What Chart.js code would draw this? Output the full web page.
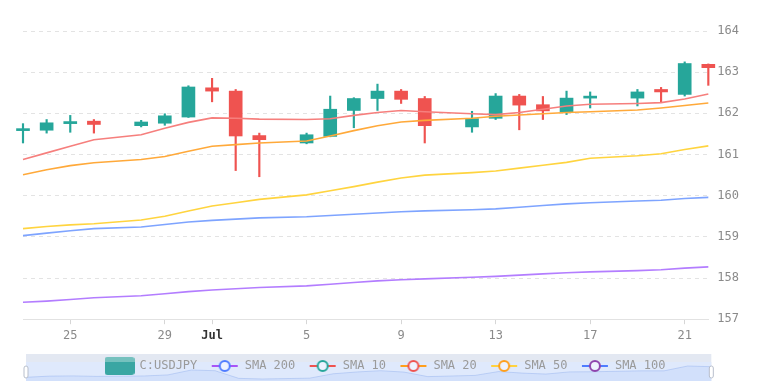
<!DOCTYPE html>
<html lang="en">
<head>
<meta charset="UTF-8">
<title>C:USDJPY</title>
<script src="https://cdn.jsdelivr.net/npm/chart.js"></script>
<style>
  html, body { margin: 0; padding: 0; background: #fff; }
  #wrap { width: 770px; height: 381px; }
</style>
</head>
<body>
<div id="wrap"><canvas id="chart" width="770" height="381"></canvas></div>
<script>
// calendar days shown on the axis (one day a week has no candle)
const dates = [
  '2024-06-23', '2024-06-24', '2024-06-25', '2024-06-26', '2024-06-27', '2024-06-28', '2024-06-29', '2024-06-30',
  '2024-07-01', '2024-07-02', '2024-07-03', '2024-07-04', '2024-07-05', '2024-07-06', '2024-07-07', '2024-07-08',
  '2024-07-09', '2024-07-10', '2024-07-11', '2024-07-12', '2024-07-13', '2024-07-14', '2024-07-15', '2024-07-16',
  '2024-07-17', '2024-07-18', '2024-07-19', '2024-07-20', '2024-07-21', '2024-07-22'
];
const tickDates = ['2024-06-25', '2024-06-29', '2024-07-01', '2024-07-05', '2024-07-09', '2024-07-13', '2024-07-17', '2024-07-21'];
const monthNames = ['Jan', 'Feb', 'Mar', 'Apr', 'May', 'Jun', 'Jul', 'Aug', 'Sep', 'Oct', 'Nov', 'Dec'];
const yTicks = [157, 158, 159, 160, 161, 162, 163, 164];

const open  = [161.58, 161.59, 161.75, 161.81, null, 161.70, 161.76, 161.91, 162.62, 162.54, 161.46, null, 161.28, 161.44, 162.07, 162.36, 162.54, 162.36, null, 161.67, 161.88, 162.42, 162.21, 162.03, 162.37, null, 162.37, 162.58, 162.46, 163.19];
const high  = [161.75, 161.85, 161.95, 161.85, null, 161.83, 161.99, 162.67, 162.85, 162.58, 161.52, null, 161.52, 162.42, 162.38, 162.71, 162.58, 162.41, null, 162.05, 162.48, 162.46, 162.41, 162.54, 162.52, null, 162.58, 162.63, 163.25, 163.20];
const low   = [161.28, 161.52, 161.54, 161.52, null, 161.67, 161.71, 161.90, 162.28, 160.61, 160.46, null, 161.26, 161.43, 161.65, 162.07, 162.24, 161.28, null, 161.54, 161.85, 161.60, 161.85, 161.97, 162.13, null, 162.18, 162.28, 162.42, 162.68];
const close = [161.60, 161.77, 161.80, 161.73, null, 161.79, 161.94, 162.64, 162.54, 161.45, 161.36, null, 161.48, 162.10, 162.36, 162.54, 162.34, 161.70, null, 161.87, 162.42, 162.20, 162.06, 162.37, 162.39, null, 162.52, 162.52, 163.21, 163.11];

const sma10  = [160.88, 161.04, 161.20, 161.36, null, 161.48, 161.64, 161.78, 161.89, 161.88, 161.86, null, 161.85, 161.87, 161.95, 162.02, 162.07, 162.04, null, 161.99, 161.97, 162.02, 162.10, 162.18, 162.22, null, 162.24, 162.26, 162.35, 162.47];
const sma20  = [160.51, 160.63, 160.73, 160.80, null, 160.88, 160.95, 161.08, 161.20, 161.24, 161.28, null, 161.33, 161.45, 161.58, 161.70, 161.79, 161.83, null, 161.88, 161.93, 161.96, 161.99, 162.02, 162.04, null, 162.08, 162.13, 162.19, 162.25];
const sma50  = [159.20, 159.25, 159.29, 159.32, null, 159.41, 159.50, 159.63, 159.75, 159.83, 159.91, null, 160.02, 160.12, 160.22, 160.33, 160.43, 160.50, null, 160.56, 160.60, 160.67, 160.74, 160.81, 160.91, null, 160.97, 161.02, 161.12, 161.21];
const sma100 = [159.03, 159.09, 159.15, 159.20, null, 159.24, 159.30, 159.36, 159.40, 159.43, 159.46, null, 159.49, 159.52, 159.55, 159.58, 159.61, 159.63, null, 159.66, 159.68, 159.72, 159.76, 159.80, 159.83, null, 159.87, 159.89, 159.93, 159.96];
const sma200 = [157.41, 157.44, 157.48, 157.52, null, 157.57, 157.62, 157.67, 157.71, 157.74, 157.77, null, 157.81, 157.85, 157.89, 157.93, 157.96, 157.98, null, 158.02, 158.04, 158.07, 158.10, 158.13, 158.15, null, 158.18, 158.20, 158.24, 158.27];

const legendNames = ['C:USDJPY', 'SMA 200', 'SMA 10', 'SMA 20', 'SMA 50', 'SMA 100'];

const UP = '#26a69a';
const DOWN = '#ef5350';
const MONO = 'DejaVu Sans Mono';

function candleColor(i) {
  return close[i] >= open[i] ? UP : DOWN;
}

function dayLabel(d) {
  const parts = d.split('-');
  const day = parseInt(parts[2], 10);
  return day === 1 ? monthNames[parseInt(parts[1], 10) - 1] : String(day);
}

// legend markers: small canvases used as point styles
function lineIcon(lineColor, ringColor) {
  const c = document.createElement('canvas');
  c.width = 28; c.height = 14;
  const g = c.getContext('2d');
  g.strokeStyle = lineColor;
  g.lineWidth = 2;
  g.beginPath(); g.moveTo(1, 7); g.lineTo(27, 7); g.stroke();
  g.fillStyle = '#eef3ff';
  g.strokeStyle = ringColor;
  g.beginPath(); g.arc(14, 7, 5, 0, Math.PI * 2); g.fill(); g.stroke();
  return c;
}
function candleIcon() {
  const c = document.createElement('canvas');
  c.width = 30; c.height = 18;
  const g = c.getContext('2d');
  g.fillStyle = '#3aa6a3';
  g.beginPath(); g.roundRect(0, 0, 30, 18, 3); g.fill();
  g.fillStyle = 'rgba(255,255,255,0.3)';
  g.beginPath(); g.roundRect(0, 0, 30, 5, [3, 3, 0, 0]); g.fill();
  return c;
}
const icons = [
  candleIcon(),
  lineIcon('#a855f7', '#4f7cff'),
  lineIcon('#ef5350', '#26a69a'),
  lineIcon('#ff9f1c', '#ef5350'),
  lineIcon('#ffd23f', '#ff9f1c'),
  lineIcon('#4f7cff', '#8e44ad')
];

// the zoom slider strip behind the legend
const sliderPlugin = {
  id: 'slider',
  beforeDraw(chart) {
    const { ctx, chartArea, height } = chart;
    const x0 = chartArea.left + 3, x1 = chartArea.right + 3;
    const y0 = height - 27, y1 = height + 2;
    ctx.save();
    ctx.fillStyle = '#e3e8f2';
    ctx.fillRect(x0, y0, x1 - x0, y1 - y0);
    ctx.fillStyle = '#dfe9fc';
    ctx.fillRect(x0, y0 + 8, x1 - x0, y1 - y0 - 8);
    // data shadow
    const vals = close.filter(v => v != null);
    const mn = Math.min(...vals), mx = Math.max(...vals);
    const top = y0 + 12, bot = y1 - 4;
    ctx.beginPath();
    let first = true;
    close.forEach((v, i) => {
      if (v == null) return;
      const x = x0 + (x1 - x0) * i / (close.length - 1);
      const y = bot - (v - mn) / (mx - mn) * (bot - top);
      if (first) { ctx.moveTo(x, y); first = false; } else ctx.lineTo(x, y);
    });
    ctx.strokeStyle = 'rgba(110,150,230,0.3)';
    ctx.lineWidth = 1;
    ctx.stroke();
    ctx.lineTo(x1, y1); ctx.lineTo(x0, y1); ctx.closePath();
    ctx.fillStyle = 'rgba(140,175,245,0.15)';
    ctx.fill();
    // handles
    ctx.fillStyle = '#fff';
    ctx.strokeStyle = '#b8bfcc';
    [x0, x1].forEach(x => {
      ctx.beginPath(); ctx.roundRect(x - 2, y0 + 12, 4, 12, 2); ctx.fill(); ctx.stroke();
    });
    ctx.restore();
  }
};

const lineDs = (label, data, color) => ({
  type: 'line', label, data, borderColor: color, borderWidth: 1.6,
  pointRadius: 0, spanGaps: true, tension: 0, clip: false, order: 0
});

new Chart(document.getElementById('chart'), {
  type: 'bar',
  data: {
    labels: dates,
    datasets: [
      lineDs('SMA 10', sma10, '#f67f7d'),
      lineDs('SMA 20', sma20, '#ffa93a'),
      lineDs('SMA 50', sma50, '#ffd43f'),
      lineDs('SMA 100', sma100, '#7ea4ff'),
      lineDs('SMA 200', sma200, '#b37dff'),
      {
        label: 'wick',
        data: dates.map((d, i) => open[i] == null ? null : [low[i], high[i]]),
        backgroundColor: dates.map((d, i) => candleColor(i)),
        barThickness: 1.5, grouped: false, clip: false, order: 2
      },
      {
        label: 'C:USDJPY',
        data: dates.map((d, i) => open[i] == null ? null : [open[i], close[i]]),
        backgroundColor: dates.map((d, i) => candleColor(i)),
        barThickness: 13, minBarLength: 2, grouped: false, clip: false, order: 1
      }
    ]
  },
  options: {
    responsive: false,
    animation: false,
    layout: { padding: { left: 23, right: 22, top: 31, bottom: -1 } },
    font: { family: MONO },
    scales: {
      x: {
        offset: false,
        grid: {
          offset: false, drawOnChartArea: false, drawTicks: true, tickLength: 5,
          tickColor: c => tickDates.includes(dates[c.index]) ? '#d6d6d6' : 'transparent'
        },
        border: { display: true, color: '#e2e2e2' },
        ticks: {
          autoSkip: false, maxRotation: 0, padding: 4,
          callback: (v, i) => tickDates.includes(dates[i]) ? dayLabel(dates[i]) : '',
          color: c => dayLabel(dates[c.index]) === 'Jul' ? '#333' : '#8a8a8a',
          font: c => ({ family: MONO, size: 12, weight: dayLabel(dates[c.index]) === 'Jul' ? 'bold' : 'normal' })
        }
      },
      y: {
        position: 'right',
        min: yTicks[0], max: yTicks[yTicks.length - 1],
        afterBuildTicks: axis => { axis.ticks = yTicks.map(v => ({ value: v })); },
        grid: { color: '#e3e3e3', drawTicks: false, lineWidth: 1 },
        border: { display: false, dash: [4, 4] },
        ticks: { padding: 9, color: '#8a8a8a', font: { family: MONO, size: 12 } }
      }
    },
    plugins: {
      tooltip: { enabled: false },
      legend: {
        position: 'bottom',
        onClick: null,
        labels: {
          usePointStyle: true,
          pointStyleWidth: 28,
          padding: 13.4,
          color: '#9a9a9a',
          font: { family: MONO, size: 12 },
          generateLabels: () => legendNames.map((name, i) => ({
            text: name, pointStyle: icons[i], fillStyle: 'transparent',
            strokeStyle: 'transparent', lineWidth: 0, hidden: false,
            fontColor: '#9a9a9a', datasetIndex: i
          }))
        }
      }
    }
  },
  plugins: [sliderPlugin]
});
</script>
</body>
</html>
